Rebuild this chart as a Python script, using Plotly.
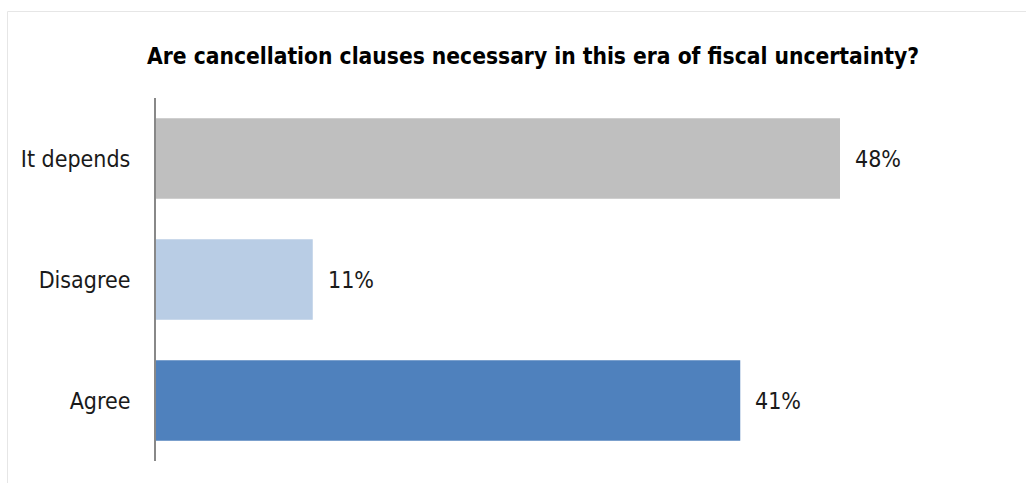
import plotly.graph_objects as go

categories = ["Agree", "Disagree", "It depends"]
percentages = [41, 11, 48]
bar_colors = ["#4F81BD", "#B9CDE5", "#BFBFBF"]
title_text = "Are cancellation clauses necessary in this era of fiscal uncertainty?"

FONT = "Liberation Sans Narrow, Arial Narrow, DejaVu Sans Condensed, sans-serif"

W, H = 1026, 483
L, R, T, B = 156, 15, 98, 22
pw, ph = W - L - R, H - T - B

fig = go.Figure(
    go.Bar(
        x=percentages,
        y=categories,
        orientation="h",
        marker=dict(color=bar_colors, line=dict(width=0)),
        width=0.665,
        hoverinfo="skip",
    )
)

for cat, val in zip(categories, percentages):
    fig.add_annotation(
        x=val, y=cat, text=f"{val}%", showarrow=False,
        xanchor="left", xshift=13,
        font=dict(family=FONT, size=23, color="#1a1a1a"),
    )

# light frame around the chart area
fig.add_shape(
    type="rect", xref="paper", yref="paper",
    x0=(7.5 - L) / pw, x1=(1040 - L) / pw,
    y0=(H - B - 500) / ph, y1=(H - B - 11.5) / ph,
    line=dict(color="#E6E6E6", width=1), layer="below",
)

fig.update_layout(
    width=W, height=H,
    margin=dict(l=L, r=R, t=T, b=B),
    paper_bgcolor="white", plot_bgcolor="white",
    showlegend=False,
    title=dict(
        text=f"<b>{title_text}</b>",
        x=(533 / W), xanchor="center", y=1 - 56 / H, yanchor="middle",
        font=dict(family=FONT, size=22.6, color="#000000"),
    ),
    xaxis=dict(range=[0, 60], visible=False, fixedrange=True),
    yaxis=dict(
        showline=True, linecolor="#888888", linewidth=2,
        showgrid=False, ticks="", ticklabelstandoff=19,
        tickfont=dict(family=FONT, size=23, color="#1a1a1a"),
        fixedrange=True,
    ),
)

fig.write_html("out.html")
